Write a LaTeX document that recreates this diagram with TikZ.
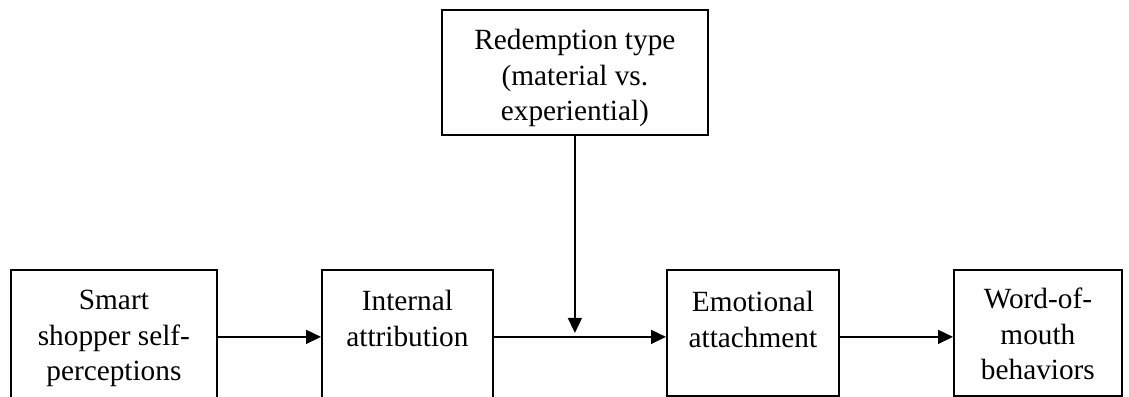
\documentclass[tikz,border=0pt]{standalone}
\usepackage{fontspec}
\setmainfont{Liberation Serif}
\usetikzlibrary{arrows.meta,positioning}

\tikzset{
	box/.style={draw, line width=1.8pt, anchor=north west, inner sep=0pt},
	txt/.style={align=center, anchor=north, inner sep=0pt, font=\fontsize{29.3}{35.5}\selectfont},
	arr/.style={line width=1.6pt, -{Triangle[length=15pt,width=14pt]}}
}

\begin{document}
\begin{tikzpicture}[x=1pt,y=-1pt]
	\useasboundingbox (0,0) rectangle (1129,396);
	% boxes
	\node[box, minimum width=266pt, minimum height=125pt] (red) at (441,9) {};
	\node[box, minimum width=206pt, minimum height=134pt] (smart) at (10,269) {};
	\node[box, minimum width=171pt, minimum height=134pt] (intern) at (321,269) {};
	\node[box, minimum width=172pt, minimum height=126pt] (emo) at (666,269) {};
	\node[box, minimum width=168pt, minimum height=126pt] (wom) at (953,269) {};
	% texts
	\node[txt] (redtxt) at ([yshift=-20pt]red.north) {Redemption type\\(material vs.\\experiential)};
	\node[txt] (smarttxt) at ([yshift=-21pt]smart.north) {Smart\\shopper self-\\perceptions};
	\node[txt] (interntxt) at ([yshift=-21pt]intern.north) {Internal\\attribution};
	\node[txt] (emotxt) at ([yshift=-22pt]emo.north) {Emotional\\attachment};
	\node[txt] (womtxt) at ([yshift=-19pt]wom.north) {Word-of-\\mouth\\behaviors};
	% arrows
	\draw[arr] (smart.east) -- (intern.west);
	\draw[arr] (intern.east) -- (intern.east -| emo.west);
	\draw[arr] (intern.east -| emo.east) -- (intern.east -| wom.west);
	\draw[arr] (red.south) -- ([yshift=4pt]red.south |- intern.east);
\end{tikzpicture}
\end{document}
